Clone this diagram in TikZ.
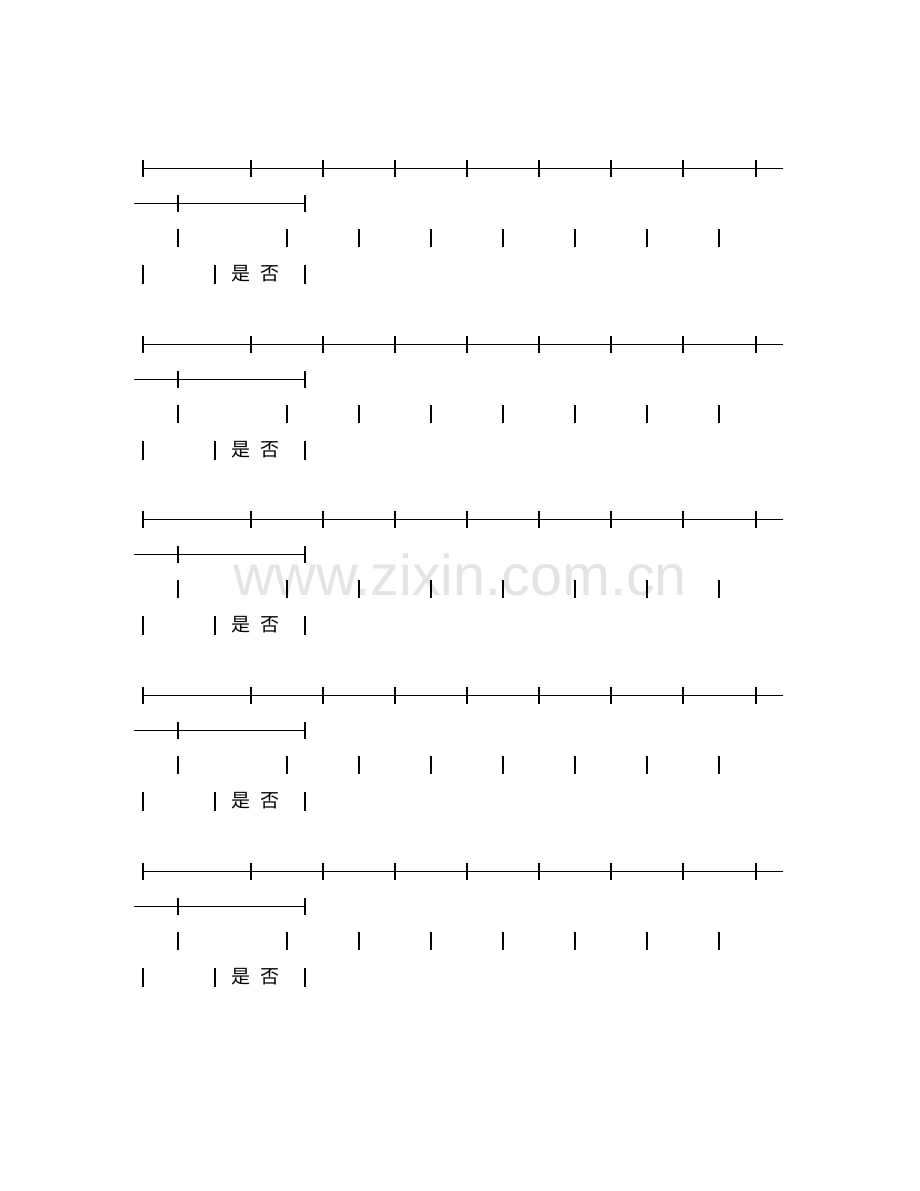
\documentclass[tikz,border=0pt]{standalone}
\usepackage{fontspec}
\newfontfamily\cjk{Noto Sans CJK SC}
\newfontfamily\wmfont{Liberation Sans}
\definecolor{wmgray}{HTML}{E4E4E4}
\begin{document}
\begin{tikzpicture}[x=1pt,y=-1pt,
  rulel/.style={draw=black,line width=1.1pt},
  cjktext/.style={font=\cjk\fontsize{19}{19}\selectfont,inner sep=0pt},
  wmtext/.style={font=\wmfont\fontsize{57.5}{57.5}\selectfont,text=wmgray,inner sep=0pt,anchor=base west}]
\useasboundingbox (0,0) rectangle (920,1191);
\fill[white] (0,0) rectangle (920,1191);
\node[wmtext] (wmark) at (233,595) {www.zixin.com.cn};
\foreach \dy [count=\i] in {0,176,351,527,703} {
  \begin{scope}[yshift={-\dy pt}]
    \draw[rulel] (143,168.5) -- (783,168.5);
    \foreach \x in {143,251,323,395,467,539,611,683,756}
      \draw[rulel] (\x,159.5) -- (\x,177);
    \draw[rulel] (134,203.5) -- (305,203.5);
    \foreach \x in {178,305}
      \draw[rulel] (\x,194.5) -- (\x,212);
    \foreach \x in {178,287,359,431,503,575,647,719}
      \draw[rulel] (\x,229) -- (\x,247);
    \foreach \x in {143,215,305}
      \draw[rulel] (\x,265) -- (\x,283.5);
    \node[cjktext] (shi\i) at (241,273.5) {是};
    \node[cjktext] (fou\i) at (269.5,273.5) {否};
  \end{scope}
}
\end{tikzpicture}
\end{document}
